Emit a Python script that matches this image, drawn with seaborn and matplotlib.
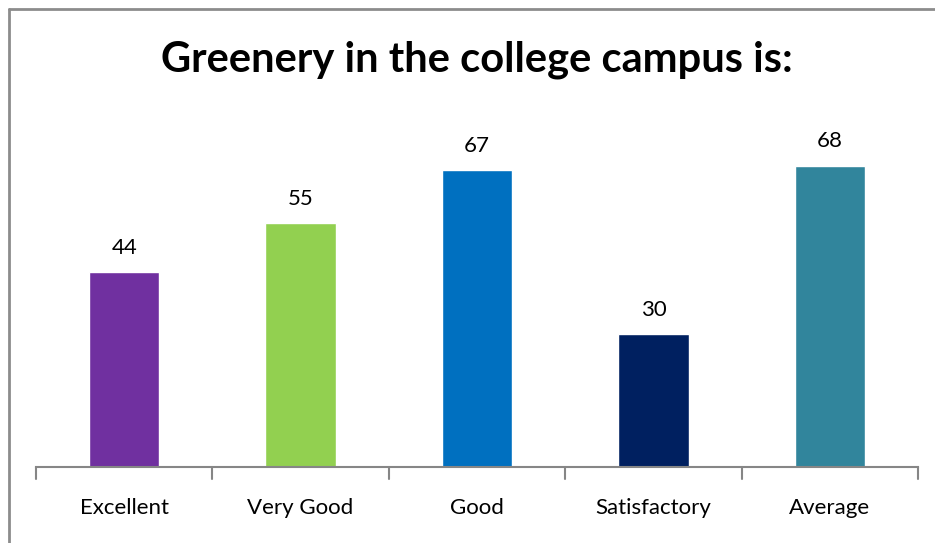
import matplotlib
matplotlib.use("Agg")
import matplotlib.pyplot as plt
from matplotlib.lines import Line2D
import seaborn as sns
import pandas as pd

categories = ["Excellent", "Very Good", "Good", "Satisfactory", "Average"]
values = [44, 55, 67, 30, 68]
colors = ["#7030A0", "#92D050", "#0070C0", "#002060", "#31859C"]
title = "Greenery in the college campus is:"

sns.set_theme(style="white")
plt.rcParams['font.family'] = ['Lato', 'DejaVu Sans']

df = pd.DataFrame({"cat": categories, "val": values})

W, H = 935, 543
fig = plt.figure(figsize=(W / 100, H / 100), dpi=100)
ax = fig.add_axes([36 / W, (H - 467) / H, (918 - 36) / W, (467 - 112.6) / H])

sns.barplot(data=df, x="cat", y="val", hue="cat", palette=colors, legend=False,
            width=0.4, ax=ax, saturation=1)

ax.set_xlim(-0.5, 4.5)
ax.set_ylim(0, 80)
ax.set_xlabel("")
ax.set_ylabel("")
ax.set_yticks([])
for s in ["top", "right", "left"]:
    ax.spines[s].set_visible(False)
ax.spines["bottom"].set_color("#868686")
ax.spines["bottom"].set_linewidth(1.5)

ax.set_xticks(range(len(categories)))
ax.set_xticklabels(categories, fontsize=16, color="black")
ax.tick_params(axis="x", length=0, pad=22)
for b in [i - 0.5 for i in range(len(categories) + 1)]:
    ax.plot([b, b], [0, -2.6], color="#868686", lw=1.5, clip_on=False, zorder=3)

for i, v in enumerate(values):
    ax.text(i, v + 5.5, str(v), ha="center", va="center", fontsize=16, color="black")

fig.text(477 / W, (H - 60) / H, title, ha="center", va="center",
         fontsize=30, fontweight="bold", color="black")

x0 = 8.5 / W
y0 = (H - 8.5) / H
fig.add_artist(Line2D([x0, x0], [0, y0], transform=fig.transFigure, color="#8c8c8c", lw=2))
fig.add_artist(Line2D([x0, 1], [y0, y0], transform=fig.transFigure, color="#8c8c8c", lw=2))

fig.savefig("out.png", dpi=100)
